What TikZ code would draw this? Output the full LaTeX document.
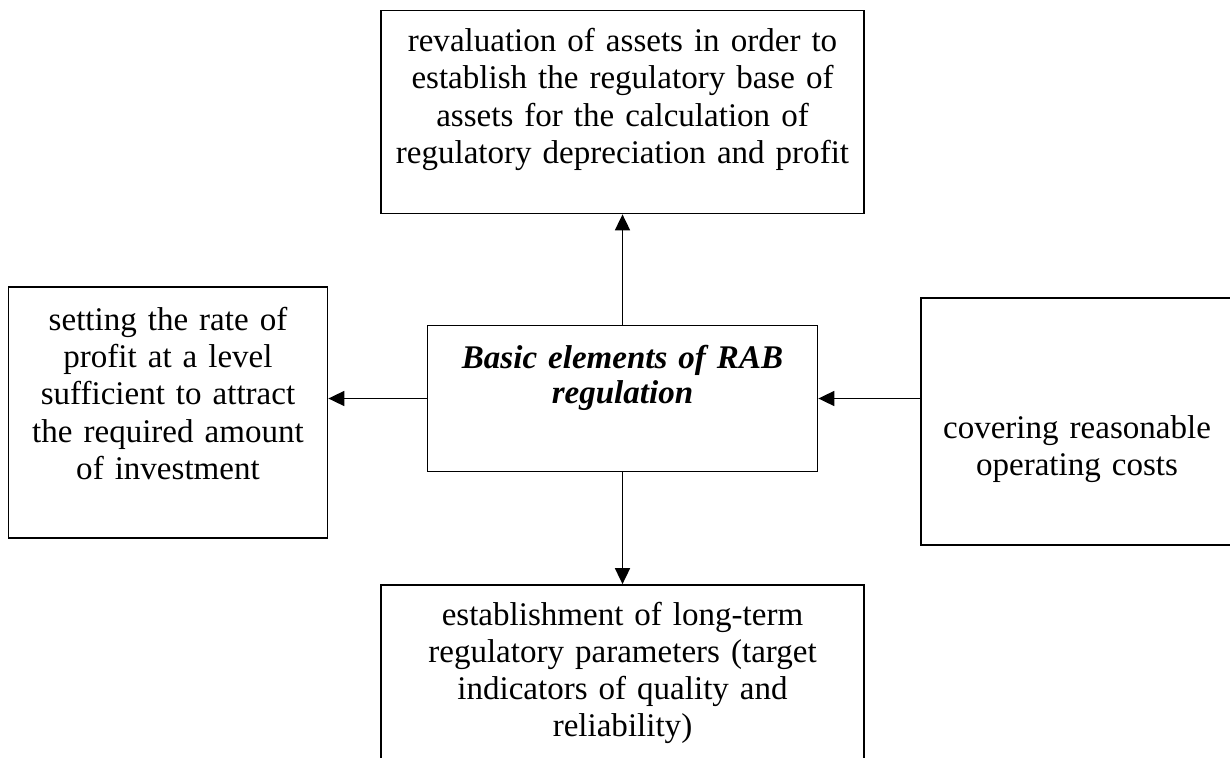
\documentclass[tikz,border=0pt]{standalone}
\usepackage{fontspec}
\setmainfont{Liberation Serif}
\usetikzlibrary{arrows.meta, positioning, calc}

\begin{document}
\begin{tikzpicture}[>={Triangle[length=0.32cm, width=0.30cm]}]
                    \tikzstyle{block} = [draw, rectangle, line width=1pt, inner sep=0pt, align=center, font=\fontsize{18.8pt}{21.2pt}\selectfont]
                    \useasboundingbox (0, 0) rectangle (24.6, -15.16);
                    \clip (0, 0) rectangle (24.6, -15.16);
                    \node[block, text width=9.66cm, text height=0.82cm, text depth=3.24cm] (reval) at (12.45, -2.24) {revaluation of assets in order to\\establish the regulatory base of\\assets for the calculation of\\regulatory depreciation and profit};
                    \node[block, text width=7.80cm, text height=0.85cm, text depth=2.07cm, font=\fontsize{18.8pt}{20.4pt}\selectfont\bfseries\itshape] (basic) at (12.45, -7.97) {Basic elements of RAB\\regulation};
                    \node[block, text width=6.38cm, text height=0.87cm, text depth=4.16cm] (rate) at (3.36, -8.25) {setting the rate of\\profit at a level\\sufficient to attract\\the required amount\\of investment};
                    \node[block, text width=6.24cm, text height=2.80cm, text depth=2.13cm] (costs) at (21.54, -8.43) {covering reasonable\\operating costs};
                    \node[block, text width=9.65cm, text height=0.80cm, text depth=3.50cm] (params) at (12.45, -13.85) {establishment of long-term\\regulatory parameters (target\\indicators of quality and\\reliability)};

                    \draw[->, line width=1pt] (basic.north) -- (basic.north |- reval.south);
                    \draw[->, line width=1pt] (basic.west) -- (basic.west -| rate.east);
                    \draw[->, line width=1pt] (basic.east -| costs.west) -- (basic.east);
                    \draw[->, line width=1pt] (basic.south) -- (basic.south |- params.north);
                \end{tikzpicture}
\end{document}
